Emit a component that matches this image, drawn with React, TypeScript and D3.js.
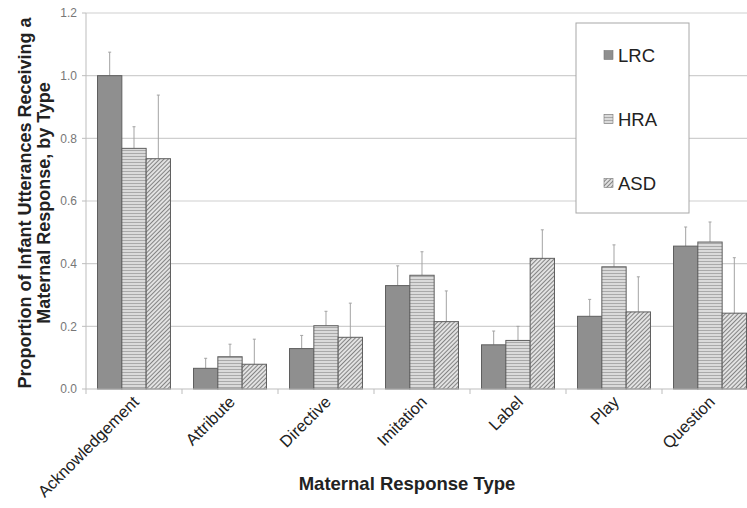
import { useMemo } from "react";
import * as d3 from "d3";

const categories = [
  "Acknowledgement",
  "Attribute",
  "Directive",
  "Imitation",
  "Label",
  "Play",
  "Question",
];
const groups = ["LRC", "HRA", "ASD"];

// mean proportions per group
const lrcValues = [1.0, 0.066, 0.129, 0.33, 0.141, 0.232, 0.456];
const hraValues = [0.768, 0.103, 0.202, 0.363, 0.155, 0.39, 0.469];
const asdValues = [0.735, 0.079, 0.165, 0.215, 0.417, 0.246, 0.242];

// upper end of error bars
const lrcErrTop = [1.075, 0.098, 0.171, 0.393, 0.185, 0.286, 0.517];
const hraErrTop = [0.837, 0.143, 0.248, 0.438, 0.2, 0.46, 0.533];
const asdErrTop = [0.938, 0.159, 0.274, 0.313, 0.508, 0.358, 0.419];

const yTicks = [0, 0.2, 0.4, 0.6, 0.8, 1.0, 1.2];

const W = 747;
const H = 508;
const margin = { left: 86, top: 13, bottom: 119 };
const plotW = 672; // runs past the right edge, like the source image
const font = "'Liberation Sans', Arial, sans-serif";

export default function App() {
  const series = [lrcValues, hraValues, asdValues];
  const errs = [lrcErrTop, hraErrTop, asdErrTop];
  const fills = ["#8f8f8f", "url(#hraPat)", "url(#asdPat)"];

  const x0 = useMemo(
    () =>
      d3
        .scaleBand<string>()
        .domain(categories)
        .range([margin.left, margin.left + plotW])
        .paddingInner(0.24)
        .paddingOuter(0.12),
    []
  );
  const x1 = useMemo(
    () => d3.scaleBand<string>().domain(groups).range([0, x0.bandwidth()]),
    [x0]
  );
  const y = useMemo(
    () => d3.scaleLinear().domain([0, 1.2]).range([H - margin.bottom, margin.top]),
    []
  );

  const step = x0.step();
  const boundaries = d3.range(categories.length + 1).map(
    (i) => margin.left + i * step
  );

  return (
    <svg
      width={W}
      height={H}
      style={{ position: "absolute", left: 0, top: 0, background: "#fff" }}
      fontFamily={font}
    >
      <defs>
        <pattern id="hraPat" width="4" height="3" patternUnits="userSpaceOnUse">
          <rect width="4" height="3" fill="#dadada" />
          <line x1="0" y1="0.5" x2="4" y2="0.5" stroke="#a9a9a9" strokeWidth="1" />
        </pattern>
        <pattern
          id="asdPat"
          width="3"
          height="3"
          patternUnits="userSpaceOnUse"
          patternTransform="rotate(45)"
        >
          <rect width="3" height="3" fill="#e2e2e2" />
          <line x1="0" y1="0" x2="0" y2="3" stroke="#444" strokeWidth="1.2" />
        </pattern>
      </defs>

      {/* gridlines */}
      {yTicks.slice(1).map((t) => (
        <line
          key={t}
          x1={margin.left}
          x2={W}
          y1={y(t)}
          y2={y(t)}
          stroke="#cfcfcf"
          strokeWidth={1.2}
        />
      ))}

      {/* y axis */}
      <line
        x1={margin.left}
        x2={margin.left}
        y1={y(1.2)}
        y2={y(0)}
        stroke="#bdbdbd"
      />
      {yTicks.map((t) => (
        <g key={t}>
          <line
            x1={margin.left - 4}
            x2={margin.left}
            y1={y(t)}
            y2={y(t)}
            stroke="#bdbdbd"
          />
          <text
            x={margin.left - 9}
            y={y(t)}
            dy="0.35em"
            textAnchor="end"
            fontSize={12}
            fill="#777"
          >
            {t.toFixed(1)}
          </text>
        </g>
      ))}

      {/* bars */}
      {categories.map((c, ci) => (
        <g key={c} transform={`translate(${x0(c)},0)`}>
          {groups.map((g, gi) => {
            const v = series[gi][ci];
            const bx = x1(g)!;
            const bw = x1.bandwidth();
            const cx = bx + bw / 2;
            return (
              <g key={g}>
                <line
                  x1={cx}
                  x2={cx}
                  y1={y(v)}
                  y2={y(errs[gi][ci])}
                  stroke="#a3a3a3"
                  strokeWidth={1}
                />
                <line
                  x1={cx - 1.5}
                  x2={cx + 1.5}
                  y1={y(errs[gi][ci])}
                  y2={y(errs[gi][ci])}
                  stroke="#a3a3a3"
                />
                <rect
                  x={bx}
                  y={y(v)}
                  width={bw}
                  height={y(0) - y(v)}
                  fill={fills[gi]}
                  stroke="#5e5e5e"
                  strokeWidth={1}
                />
              </g>
            );
          })}
        </g>
      ))}

      {/* x axis */}
      <line
        x1={margin.left}
        x2={W}
        y1={y(0)}
        y2={y(0)}
        stroke="#bdbdbd"
        strokeWidth={1.2}
      />
      {boundaries.map((bx, i) => (
        <line
          key={i}
          x1={bx}
          x2={bx}
          y1={y(0)}
          y2={y(0) + 5}
          stroke="#bdbdbd"
        />
      ))}
      {categories.map((c) => {
        const cx = x0(c)! + x0.bandwidth() / 2 + 6;
        return (
          <text
            key={c}
            transform={`translate(${cx},${y(0) + 14}) rotate(-45)`}
            textAnchor="end"
            fontSize={16.5}
            fill="#222"
          >
            {c}
          </text>
        );
      })}

      {/* axis titles */}
      <text
        x={407}
        y={490}
        textAnchor="middle"
        fontSize={18.5}
        fontWeight="bold"
        fill="#222"
      >
        Maternal Response Type
      </text>
      <text
        transform={`translate(31,203) rotate(-90)`}
        textAnchor="middle"
        fontSize={18}
        fontWeight="bold"
        fill="#222"
      >
        <tspan x={0} dy={0}>
          Proportion of Infant Utterances Receiving a
        </tspan>
        <tspan x={0} dy={19}>
          Maternal Response, by Type
        </tspan>
      </text>

      {/* legend */}
      <g>
        <rect
          x={576}
          y={23}
          width={113}
          height={190}
          fill="#fff"
          stroke="#a8a8a8"
        />
        {groups.map((g, gi) => {
          const ly = 55 + gi * 64;
          return (
            <g key={g}>
              <rect
                x={604}
                y={ly - 4.5}
                width={9}
                height={9}
                fill={fills[gi]}
                stroke="#777"
                strokeWidth={0.6}
              />
              <text
                x={618}
                y={ly}
                dy="0.36em"
                fontSize={18.5}
                fill="#222"
              >
                {g}
              </text>
            </g>
          );
        })}
      </g>
    </svg>
  );
}
